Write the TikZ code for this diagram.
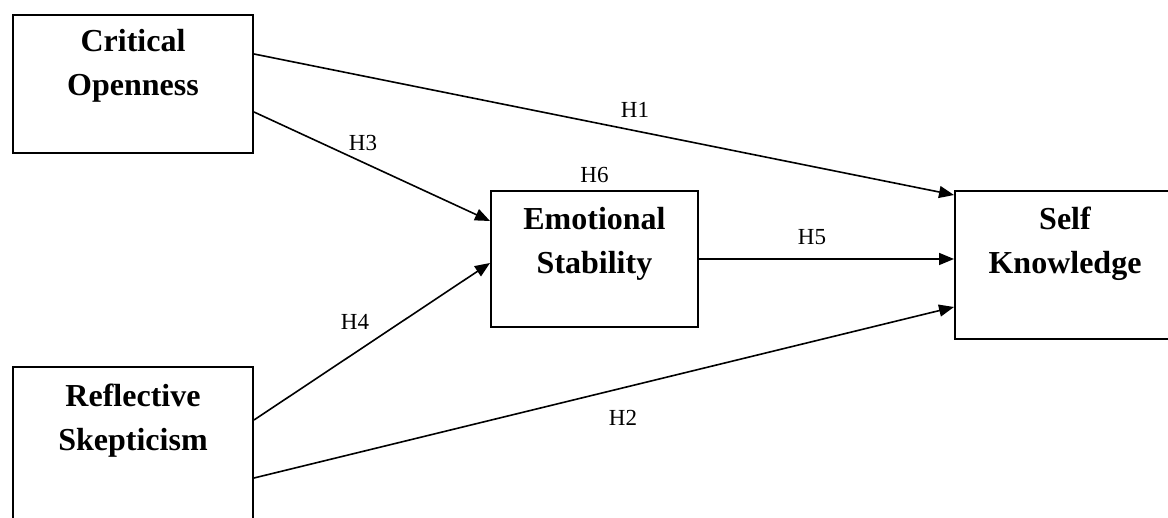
\documentclass[tikz,border=0pt]{standalone}
\usepackage{fontspec}
\setmainfont{Liberation Serif}
\usepackage{tikz}
\usetikzlibrary{arrows.meta, positioning, calc}

\begin{document}
\begin{tikzpicture}[
  x=1pt, y=1pt,
  box/.style={draw, line width=2pt, inner sep=0pt},
  boxtxt/.style={align=center, inner sep=0pt,
                 font=\fontsize{32}{44}\selectfont\bfseries},
  hlbl/.style={inner sep=1pt, font=\fontsize{23}{25}\selectfont},
  arr/.style={-{Triangle[length=15pt,width=12pt]}, line width=1.6pt}
]
\useasboundingbox (0,0) rectangle (1168,518);
\clip (0,0) rectangle (1168,518);

\node[box, minimum width=240pt, minimum height=138pt] (co) at (133,434)  {};
\node[box, minimum width=240pt, minimum height=163pt] (rs) at (133,69.5) {};
\node[box, minimum width=207pt, minimum height=136pt] (es) at (594.5,259) {};
\node[box, minimum width=220pt, minimum height=148pt] (sk) at (1065,253) {};

\node[boxtxt, below=15pt of co.north] (cotxt) {Critical\\Openness};
\node[boxtxt, below=18pt of rs.north] (rstxt) {Reflective\\Skepticism};
\node[boxtxt, below=17pt of es.north] (estxt) {Emotional\\Stability};
\node[boxtxt, below=17pt of sk.north] (sktxt) {Self\\Knowledge};

\draw[arr] ($(co.east)+(0,30)$)   -- ($(sk.west)+(0,70)$);
\draw[arr] ($(co.east)+(0,-28)$)  -- ($(es.west)+(0,38)$);
\draw[arr] ($(rs.east)+(0,28.5)$) -- ($(es.west)+(0,-4)$);
\draw[arr] ($(rs.east)+(0,-29.5)$) -- ($(sk.west)+(0,-42)$);
\draw[arr] (es.east) -- (es.east -| sk.west);

\node[hlbl] (h1) at (635,408) {H1};
\node[hlbl] (h2) at (623,100) {H2};
\node[hlbl] (h3) at (363,375) {H3};
\node[hlbl] (h4) at (355,196) {H4};
\node[hlbl] (h5) at (812,281) {H5};
\node[hlbl, above=6pt of es] (h6) {H6};

\end{tikzpicture}
\end{document}
